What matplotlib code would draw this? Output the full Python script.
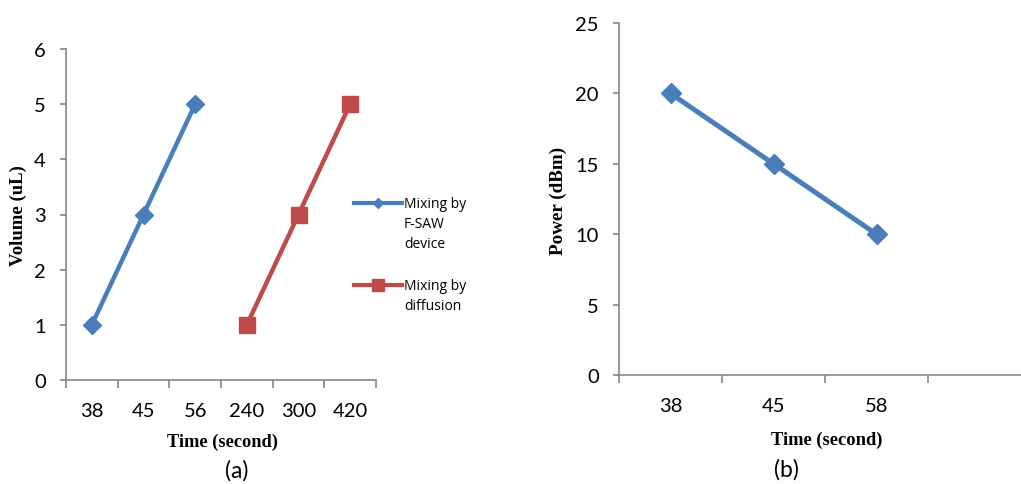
import numpy as np
import matplotlib
matplotlib.use('Agg')
import matplotlib.pyplot as plt
from matplotlib.lines import Line2D

# chart (a): volume vs mixing time
cats_a = ['38', '45', '56', '240', '300', '420']
saw_vol = [1, 3, 5, np.nan, np.nan, np.nan]
diff_vol = [np.nan, np.nan, np.nan, 1, 3, 5]
legend_a = ['Mixing by\nF-SAW\ndevice', 'Mixing by\ndiffusion']

# chart (b): power vs mixing time
cats_b = ['38', '45', '58']
power = [20, 15, 10]

blue = '#4a7ebb'
red = '#be4b48'
grey = '#868686'
tick_font = 'Lato'
label_font = 'Liberation Serif'

W, H = 1021, 485
fig = plt.figure(figsize=(W / 100, H / 100), dpi=100)


def px_axes(x0, y0, x1, y1):
    # axes rectangle given in pixel coords (top-left origin)
    return fig.add_axes([x0 / W, 1 - y1 / H, (x1 - x0) / W, (y1 - y0) / H])


def fx(x):
    return x / W


def fy(y):
    return 1 - y / H


def style_axes(ax, ncat, yticks):
    for s in ['top', 'right']:
        ax.spines[s].set_visible(False)
    for s in ['left', 'bottom']:
        ax.spines[s].set_color(grey)
        ax.spines[s].set_linewidth(1.2)
    ax.set_xticks(np.arange(ncat + 1) - 0.5)
    ax.set_xticklabels([])
    ax.set_yticks(yticks)
    ax.tick_params(axis='x', which='major', length=6, width=1.2, color=grey, direction='out')
    ax.tick_params(axis='x', which='minor', length=0, pad=15.5, labelsize=14.5)
    ax.tick_params(axis='y', length=4.5, width=1.2, color=grey, direction='out',
                   pad=10, labelsize=14.5)
    for t in ax.get_yticklabels():
        t.set_fontfamily(tick_font)


# ---- (a)
ax1 = px_axes(66, 50, 376, 381)
ax1.plot(range(len(cats_a)), saw_vol, color=blue, lw=3.2, marker='D', ms=9)
ax1.plot(range(len(cats_a)), diff_vol, color=red, lw=3.2, marker='s', ms=11)
ax1.set_xlim(-0.5, len(cats_a) - 0.5)
ax1.set_ylim(0, 6)
style_axes(ax1, len(cats_a), range(0, 7))
ax1.set_xticks(range(len(cats_a)), minor=True)
ax1.set_xticklabels(cats_a, minor=True, fontfamily=tick_font)

# legend drawn by hand so the key sits on the first line of each label
for (ly, col, mk, ms, lab) in [(204, blue, 'D', 5, legend_a[0]),
                               (286, red, 's', 8, legend_a[1])]:
    fig.add_artist(Line2D([fx(354), fx(402)], [fy(ly), fy(ly)], color=col, lw=3,
                          transform=fig.transFigure))
    fig.add_artist(Line2D([fx(378)], [fy(ly)], color=col, marker=mk, ms=ms,
                          transform=fig.transFigure))
    fig.text(fx(404), fy(ly - 7), lab, ha='left', va='top', linespacing=1.45,
             fontfamily='Open Sans', fontsize=10)

fig.text(fx(18), fy(216), 'Volume (uL)', rotation=90, ha='center', va='center',
         fontfamily=label_font, fontweight='bold', fontsize=13.5)
fig.text(fx(222), fy(442), 'Time (second)', ha='center', va='center',
         fontfamily=label_font, fontweight='bold', fontsize=13.2)
fig.text(fx(237), fy(471), '(a)', ha='center', va='center',
         fontfamily=tick_font, fontsize=16.5)

# ---- (b)
ax2 = px_axes(619, 24, 1031, 376)
ax2.plot(range(len(cats_b)), power, color=blue, lw=3.6, marker='D', ms=10)
ax2.set_xlim(-0.5, len(cats_b) + 0.5)
ax2.set_ylim(0, 25)
style_axes(ax2, len(cats_b) + 1, range(0, 26, 5))
ax2.set_xticks(range(len(cats_b)), minor=True)
ax2.set_xticklabels(cats_b, minor=True, fontfamily=tick_font)

fig.text(fx(558), fy(201), 'Power (dBm)', rotation=90, ha='center', va='center',
         fontfamily=label_font, fontweight='bold', fontsize=13.8)
fig.text(fx(827), fy(440), 'Time (second)', ha='center', va='center',
         fontfamily=label_font, fontweight='bold', fontsize=13.3)
fig.text(fx(786), fy(470), '(b)', ha='center', va='center',
         fontfamily=tick_font, fontsize=16.5)

fig.savefig('out.png', dpi=100)
